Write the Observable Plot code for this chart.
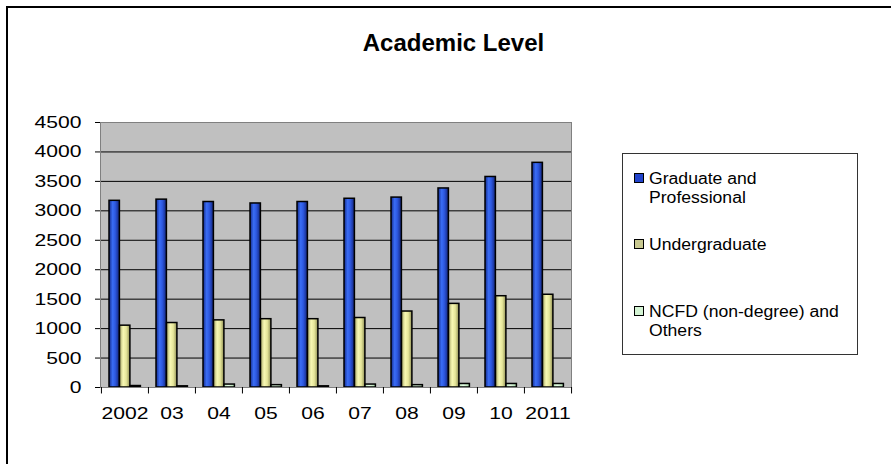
<!DOCTYPE html>
<html>
<head>
<meta charset="utf-8">
<script src="https://cdn.jsdelivr.net/npm/d3@7"></script>
<script src="https://cdn.jsdelivr.net/npm/@observablehq/plot@0.6"></script>
<style>
  body { margin: 0; background: #fff; }
  #wrap { position: relative; width: 891px; height: 464px; overflow: hidden; background: #fff;
          font-family: "Liberation Sans", Arial, sans-serif; color: #000; }
  #outer { position: absolute; left: 6px; top: 6px; width: 950px; height: 550px;
           border-top: 2px solid #000; border-left: 2px solid #000; }
  #chart { position: absolute; left: 0; top: 0; }
  #title { position: absolute; left: 0; top: 31px; width: 907px; text-align: center;
           font-size: 24px; line-height: 24px; font-weight: bold; }
  #legend { position: absolute; left: 622px; top: 153px; width: 236px; height: 202px;
            border: 1px solid #333; box-sizing: border-box; background: #fff; }
  .sw { position: absolute; width: 10px; height: 10px; border: 1px solid #000; box-sizing: border-box; left: 634px; }
  .lt { position: absolute; left: 649px; font-size: 16px; line-height: 19.5px; white-space: nowrap;
        transform: scaleX(1.1); transform-origin: left top; }
</style>
</head>
<body>
<div id="wrap">
  <div id="outer"></div>
  <div id="chart"></div>
  <div id="title"></div>
  <div id="legend"></div>
</div>
<script>
const title = "Academic Level";
const categories = ["2002", "03", "04", "05", "06", "07", "08", "09", "10", "2011"];
const seriesNames = ["Graduate and Professional", "Undergraduate", "NCFD (non-degree) and Others"];
const graduate = [3170, 3190, 3150, 3125, 3150, 3205, 3225, 3380, 3575, 3815];
const undergraduate = [1050, 1095, 1140, 1160, 1160, 1180, 1290, 1420, 1550, 1575];
const ncfd = [25, 20, 50, 40, 20, 50, 40, 60, 60, 60];
const yTicks = [0, 500, 1000, 1500, 2000, 2500, 3000, 3500, 4000, 4500];

const W = 891, H = 464;
const mL = 100, mR = 320, mT = 122, mB = 77;
const bw = (W - mL - mR) / categories.length;
const barW = 10.5, groupOff = 8;

const rows = (vals) => categories.map((c, i) => ({cat: c, value: vals[i]}));
const inset = (k) => ({insetLeft: groupOff + k * barW, insetRight: bw - groupOff - (k + 1) * barW});

const plot = Plot.plot({
  width: W, height: H,
  marginLeft: mL, marginRight: mR, marginTop: mT, marginBottom: mB,
  style: {fontFamily: "'Liberation Sans', Arial, sans-serif", fontSize: "17px", color: "#000", background: "transparent", overflow: "visible"},
  x: {type: "band", domain: categories, padding: 0, label: null, tickSize: 0, tickPadding: 19, line: true},
  y: {domain: [0, 4500], ticks: yTicks, tickFormat: d => String(d), label: null, tickSize: 5, tickPadding: 14, line: true},
  marks: [
    Plot.frame({fill: "#c0c0c0"}),
    Plot.ruleY(yTicks.filter(d => d > 0), {stroke: "#000", strokeWidth: 1}),
    Plot.barY(rows(graduate), {x: "cat", y: "value", fill: "url(#gBlue)", stroke: "#000", strokeWidth: 1.5, ...inset(0)}),
    Plot.barY(rows(undergraduate), {x: "cat", y: "value", fill: "url(#gYellow)", stroke: "#000", strokeWidth: 1.5, ...inset(1)}),
    Plot.barY(rows(ncfd), {x: "cat", y: "value", fill: "url(#gGreen)", stroke: "#000", strokeWidth: 1.5, ...inset(2)}),
    Plot.frame({stroke: "#808080"}),
    Plot.ruleX(categories, {x: d => d, y1: 0, y2: -110, dx: -bw / 2, stroke: "#000"}),
    Plot.ruleX(categories.slice(-1), {x: d => d, y1: 0, y2: -110, dx: bw / 2, stroke: "#000"})
  ]
});

const defs = d3.select(plot).insert("defs", ":first-child");
function grad(id, stops) {
  const g = defs.append("linearGradient").attr("id", id).attr("x1", "0").attr("x2", "1").attr("y1", "0").attr("y2", "0");
  stops.forEach(([o, c]) => g.append("stop").attr("offset", o).attr("stop-color", c));
}
grad("gBlue", [[0, "#142a8a"], [0.35, "#3a6df5"], [0.6, "#2d58e0"], [1, "#13247a"]]);
grad("gYellow", [[0, "#a5a565"], [0.35, "#f8f8b4"], [0.65, "#e6e69a"], [1, "#8f8f55"]]);
grad("gGreen", [[0, "#b9e6b9"], [0.4, "#e6ffe6"], [1, "#a8d8a8"]]);

document.getElementById("chart").appendChild(plot);

// horizontally stretched tick labels, as in the reference
d3.select(plot).selectAll("g[aria-label$='axis'] text, g[aria-label*='tick label'] text").each(function() {
  const w = this.getComputedTextLength();
  this.setAttribute("textLength", w * 1.24);
  this.setAttribute("lengthAdjust", "spacingAndGlyphs");
});

document.getElementById("title").textContent = title;

const legendEntries = [
  {name: seriesNames[0], lines: ["Graduate and", "Professional"], color: "#2244cc", top: 168.5},
  {name: seriesNames[1], lines: ["Undergraduate"], color: "#c8c890", top: 234.5},
  {name: seriesNames[2], lines: ["NCFD (non-degree) and", "Others"], color: "#d4f4d4", top: 301.5}
];
const wrap = document.getElementById("wrap");
legendEntries.forEach(e => {
  const sw = document.createElement("div");
  sw.className = "sw";
  sw.style.top = (e.top + 4.5) + "px";
  sw.style.background = e.color;
  wrap.appendChild(sw);
  const t = document.createElement("div");
  t.className = "lt";
  t.style.top = e.top + "px";
  t.innerHTML = e.lines.join("<br>");
  wrap.appendChild(t);
});
</script>
</body>
</html>
